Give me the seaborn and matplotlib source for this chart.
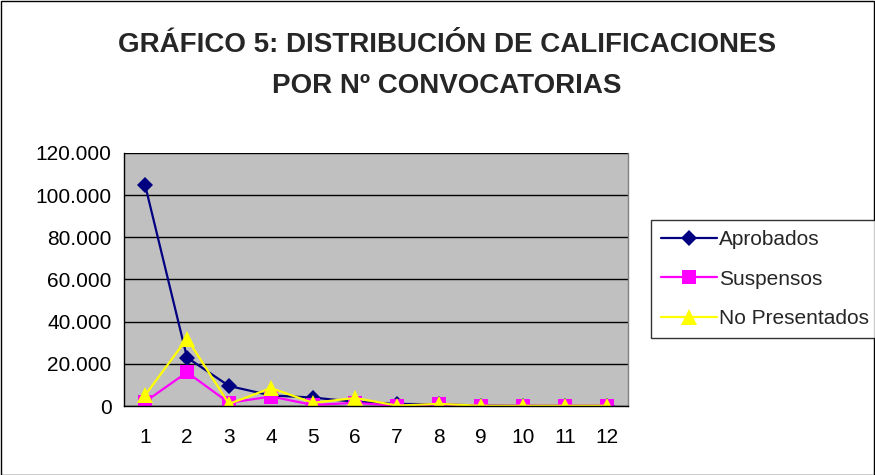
import matplotlib
matplotlib.use("Agg")
import matplotlib.pyplot as plt
import seaborn as sns
import pandas as pd
from matplotlib.ticker import FuncFormatter, FixedLocator
from matplotlib.patches import Rectangle

convocatorias = [1, 2, 3, 4, 5, 6, 7, 8, 9, 10, 11, 12]
aprobados = [105000, 23000, 9500, 5000, 4000, 2000, 1000, 800, 200, 100, 50, 30]
suspensos = [2000, 16000, 1500, 4500, 500, 1500, 100, 800, 100, 100, 100, 100]
no_presentados = [5000, 32000, 1000, 8500, 1500, 3800, 200, 1000, 100, 100, 100, 100]
series_names = ["Aprobados", "Suspensos", "No Presentados"]
title_lines = ["GRÁFICO 5: DISTRIBUCIÓN DE CALIFICACIONES", "POR Nº CONVOCATORIAS"]

df = pd.DataFrame({
    "conv": convocatorias * 3,
    "valor": aprobados + suspensos + no_presentados,
    "serie": [series_names[0]] * 12 + [series_names[1]] * 12 + [series_names[2]] * 12,
})

sns.set_theme(style="white")
plt.rcParams["font.family"] = ["Liberation Sans", "DejaVu Sans"]

fig = plt.figure(figsize=(8.75, 4.75), dpi=100)
ax = fig.add_axes([124/875, 1-406/475, (628-124)/875, (406-153)/475])
ax.set_facecolor("#C0C0C0")

palette = {"Aprobados": "#000080", "Suspensos": "#FF00FF", "No Presentados": "#FFFF00"}
markers = {"Aprobados": "D", "Suspensos": "s", "No Presentados": "^"}
sizes = {"Aprobados": 8, "Suspensos": 10, "No Presentados": 11}

for name in series_names:
    sub = df[df["serie"] == name]
    sns.lineplot(data=sub, x="conv", y="valor", ax=ax, color=palette[name],
                 marker=markers[name], markersize=sizes[name], markeredgewidth=0,
                 linewidth=1.6, label=name, legend=False)

ax.set_xlim(0.5, 12.5)
ax.set_ylim(0, 120000)
ax.yaxis.set_major_locator(FixedLocator(list(range(0, 120001, 20000))))
ax.yaxis.set_major_formatter(FuncFormatter(lambda v, p: "0" if v == 0 else f"{int(v):,}".replace(",", ".")))
ax.set_xticks(convocatorias)
ax.set_xticks([x + 0.5 for x in range(0, 13)], minor=True)
ax.tick_params(axis="x", which="major", length=0, labelsize=15, pad=16, colors="black")
ax.tick_params(axis="x", which="minor", length=5, width=1, direction="out", color="black")
ax.tick_params(axis="y", which="major", length=5, width=1, direction="out", labelsize=15, color="black", labelcolor="black", pad=4)
ax.grid(axis="y", color="black", linewidth=1)
ax.grid(axis="x", visible=False)
ax.set_axisbelow(True)
ax.set_xlabel("")
ax.set_ylabel("")
for s in ["top", "right"]:
    ax.spines[s].set_color("#808080")
    ax.spines[s].set_linewidth(1)
for s in ["left", "bottom"]:
    ax.spines[s].set_color("black")
    ax.spines[s].set_linewidth(1)
ax.spines["top"].set_visible(False)

fig.text(447/875, 1-45/475, title_lines[0], ha="center", va="center", fontsize=20, fontweight="bold")
fig.text(447/875, 1-86/475, title_lines[1], ha="center", va="center", fontsize=20, fontweight="bold")

handles, labels = ax.get_legend_handles_labels()
leg = fig.legend(handles, labels, loc="upper left", bbox_to_anchor=(651/875, 1-220/475),
                 frameon=True, fancybox=False, fontsize=15, handlelength=2.65,
                 borderpad=0.5, labelspacing=0.97, handletextpad=0.1, borderaxespad=0)
leg.get_frame().set_edgecolor("black")
leg.get_frame().set_linewidth(1)

fig.patches.append(Rectangle((0.001, 0.001), 0.998, 0.997, transform=fig.transFigure,
                             fill=False, edgecolor="black", linewidth=1))

fig.savefig("out.png", dpi=100)
